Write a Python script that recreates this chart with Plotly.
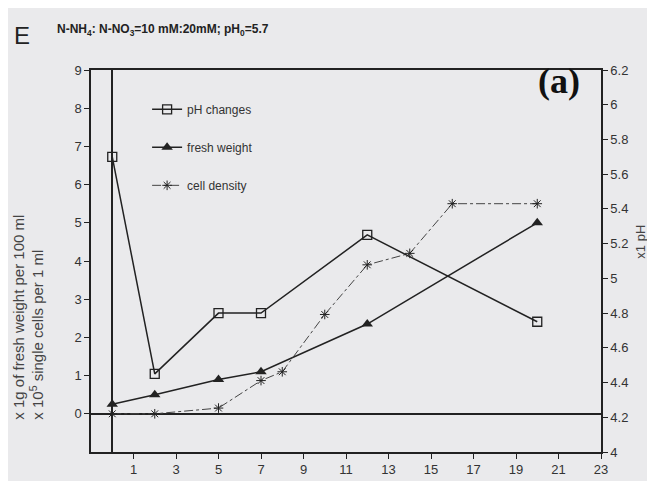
import plotly.graph_objects as go

# Data
ph_days = [0, 2, 5, 7, 12, 20]
ph_values = [5.7, 4.45, 4.8, 4.8, 5.25, 4.75]

fw_days = [0, 2, 5, 7, 12, 20]
fw_values = [0.25, 0.5, 0.9, 1.1, 2.35, 5.0]

cd_days = [0, 2, 5, 7, 8, 10, 12, 14, 16, 20]
cd_values = [0, 0, 0.15, 0.87, 1.1, 2.6, 3.9, 4.2, 5.5, 5.5]

x_ticks = [1, 3, 5, 7, 9, 11, 13, 15, 17, 19, 21, 23]
left_ticks = [0, 1, 2, 3, 4, 5, 6, 7, 8, 9]

INK = "#222222"
TXT = "#333333"
BG = "#eaeaec"
FONT = "Liberation Sans, Arial, sans-serif"

fig = go.Figure()

fig.add_trace(go.Scatter(
    x=ph_days, y=ph_values, name="pH changes", yaxis="y2",
    mode="lines+markers", legendgroup="a",
    line=dict(color=INK, width=1.5),
    marker=dict(symbol="square-open", size=9, color=INK, line=dict(width=1.3)),
))
fig.add_trace(go.Scatter(
    x=fw_days, y=fw_values, name="fresh weight",
    mode="lines+markers", legendgroup="b",
    line=dict(color=INK, width=1.5),
    marker=dict(symbol="triangle-up", size=10, color=INK),
))
fig.add_trace(go.Scatter(
    x=cd_days, y=cd_values, name="cell density",
    mode="lines+markers", legendgroup="c",
    line=dict(color="#444444", width=1, dash="dashdot"),
    marker=dict(symbol="asterisk-open", size=8, color=INK, line=dict(width=1, color=INK)),
))

axis_common = dict(
    showgrid=False, ticks="outside", ticklen=5, tickcolor=INK,
    showline=True, linecolor=INK, linewidth=1.5,
    tickfont=dict(family=FONT, size=13, color=TXT),
)

fig.update_layout(
    width=655, height=481,
    margin=dict(l=83, r=62, t=62, b=24),
    paper_bgcolor=BG, plot_bgcolor=BG,
    font=dict(family=FONT, color=TXT),
    xaxis=dict(range=[-1, 23], tickvals=x_ticks, mirror=True,
               zeroline=True, zerolinecolor=INK, zerolinewidth=1.5,
               **axis_common),
    yaxis=dict(range=[-1, 9], tickvals=left_ticks,
               zeroline=True, zerolinecolor=INK, zerolinewidth=1.5,
               **axis_common),
    yaxis2=dict(range=[4, 6.2], tick0=4, dtick=0.2, overlaying="y", side="right",
                zeroline=False, **axis_common),
    legend=dict(x=0.11, y=0.935, xanchor="left", yanchor="top",
                bgcolor="rgba(0,0,0,0)", traceorder="grouped", tracegroupgap=19,
                font=dict(family=FONT, size=12, color=TXT)),
    showlegend=True,
)

fig.add_annotation(
    text="x 1g of fresh weight per 100 ml<br>x 10<sup>5</sup> single cells per 1 ml",
    xref="paper", yref="paper", x=-0.122, y=0.08, xanchor="center", yanchor="bottom",
    textangle=-90, align="left", showarrow=False,
    font=dict(family=FONT, size=15, color="#444444"),
)
fig.add_annotation(
    text="x1 pH", xref="paper", yref="paper", x=1.078, y=0.55,
    xanchor="center", yanchor="middle", textangle=-90, showarrow=False,
    font=dict(family=FONT, size=13, color="#444444"),
)
fig.add_annotation(
    text="<b>N-NH<sub>4</sub>: N-NO<sub>3</sub>=10 mM:20mM; pH<sub>0</sub>=5.7</b>",
    xref="paper", yref="paper", x=-0.071, y=1.105, xanchor="left", yanchor="middle",
    showarrow=False, font=dict(family=FONT, size=12, color="#222222"),
)
fig.add_annotation(
    text="E", xref="paper", yref="paper", x=-0.136, y=1.09,
    xanchor="center", yanchor="middle", showarrow=False,
    font=dict(family=FONT, size=24, color="#222222"),
)
fig.add_annotation(
    text="<b>(a)</b>", xref="paper", yref="paper", x=0.918, y=0.97,
    xanchor="center", yanchor="middle", showarrow=False,
    font=dict(family="Liberation Serif, DejaVu Serif, serif", size=36, color="#111111"),
)

fig.write_html("out.html")
